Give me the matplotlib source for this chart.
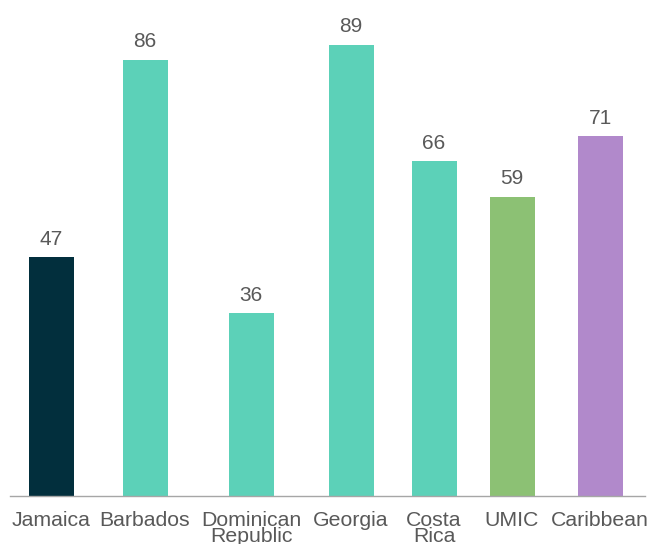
import matplotlib.pyplot as plt

plt.rcParams['font.family'] = ['Liberation Sans', 'DejaVu Sans']

countries = ["Jamaica", "Barbados", "Dominican\nRepublic", "Georgia", "Costa\nRica", "UMIC", "Caribbean"]
values = [47, 86, 36, 89, 66, 59, 71]
colors = ["#022F3D", "#5CD1B8", "#5CD1B8", "#5CD1B8", "#5CD1B8", "#8CC174", "#B189CB"]

# bar centres along the axis (in axis units)
positions = [51, 145, 251, 351, 434, 512, 600]

fig = plt.figure(figsize=(6.49, 5.44), dpi=100)
ax = fig.add_axes([10 / 649, 48.3 / 544, 635 / 649, 495.7 / 544])

bars = ax.bar(positions, values, width=45, color=colors)
for b, v in zip(bars, values):
    ax.annotate(str(v), (b.get_x() + b.get_width() / 2, v), xytext=(0, 6),
                textcoords="offset points", ha="center", va="bottom",
                fontsize=15, color="#595959")

ax.set_xlim(10, 645)
ax.set_ylim(0, 97.8)
ax.set_xticks(positions)
ax.set_xticklabels(countries, fontsize=15.3, color="#595959", linespacing=0.78)
ax.tick_params(axis="x", length=0, pad=11)
ax.set_yticks([])
for s in ["top", "right", "left"]:
    ax.spines[s].set_visible(False)
ax.spines["bottom"].set_color("#A6A6A6")
ax.spines["bottom"].set_linewidth(1)

fig.savefig("out.png", dpi=100)
